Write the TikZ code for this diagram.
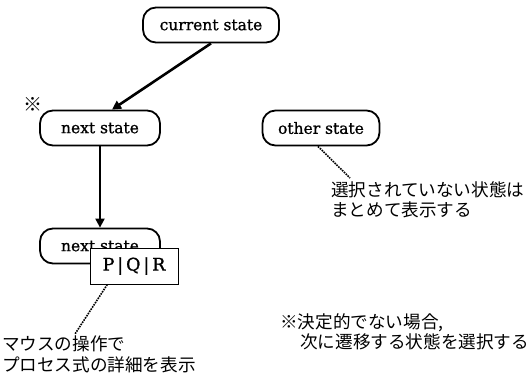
\documentclass[tikz,border=0pt]{standalone}
\usepackage{fontspec}
\setmainfont{DejaVu Serif}
\newfontfamily\statefont[FakeBold=1]{DejaVu Serif}
\newfontfamily\jp{Noto Sans CJK JP}
\usetikzlibrary{calc,arrows.meta}
\begin{document}
\begin{tikzpicture}[x=1pt,y=-1pt,
  statebox/.style={draw, line width=1.8pt, rounded corners=13pt, minimum height=35pt, font=\statefont\fontsize{15.5}{18}\selectfont, inner sep=0pt},
  conn/.style={line width=2pt, -{Triangle[length=9pt,width=9pt]}},
  note/.style={densely dotted, line width=1.6pt},
  jtext/.style={font=\jp\fontsize{17.6}{20.5}\selectfont, align=left, anchor=north west, inner sep=0pt}]
\useasboundingbox (0,0) rectangle (531,378);
\node[statebox, minimum width=136pt] (cur) at (211,25) {current state};
\node[statebox, minimum width=120pt] (next1) at (100,128) {next state};
\node[statebox, minimum width=117pt] (other) at (321,128) {other state};
\node[statebox, minimum width=120pt] (next2) at (100,246) {next state};
\node[draw, fill=white, line width=1pt, minimum width=88pt, minimum height=36pt, inner sep=0pt, font=\statefont\fontsize{17.5}{19}\selectfont] (pqr) at (134,266) {P\,|\,Q\,|\,R};
\node[font=\jp\fontsize{19}{19}\selectfont, inner sep=0pt] (mark) at (33,104) {※};
\draw[conn, line width=2.6pt] (cur.south) -- ($(next1.north)+(12,0)$);
\draw[conn] (next1.south) -- (next2.north);
\coordinate (oend) at (350,178);
\draw[note] ($(other.south)+(-3,0)$) -- (oend);
\coordinate (pend) at (75,334);
\draw[note] ($(pqr.south west)!0.2!(pqr.south east)$) -- (pend);
\node[jtext] (t1) at (331,181) {選択されていない状態は\\まとめて表示する};
\node[jtext] (t2) at (2,336) {マウスの操作で\\プロセス式の詳細を表示};
\node[jtext] (t3) at (280,313) {※決定的でない場合,\\\hspace{20pt}次に遷移する状態を選択する};
\end{tikzpicture}
\end{document}
